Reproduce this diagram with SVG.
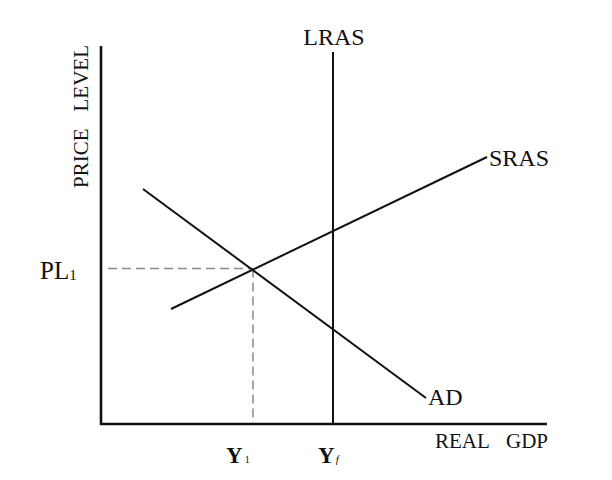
<svg xmlns="http://www.w3.org/2000/svg" width="612" height="480" viewBox="0 0 612 480">
<style>
.ax{stroke:#111;stroke-width:2.6;fill:none}
.cv{stroke:#111;stroke-width:2;fill:none}
.ds{stroke:#8a8a8a;stroke-width:1.5;stroke-dasharray:9,5;fill:none}
text{font-family:"Liberation Serif","Times New Roman",serif;fill:#111}
</style>
<rect width="612" height="480" fill="#fff"/>
<g id="axes">
<line class="ax" x1="101" y1="46" x2="101" y2="425"/>
<line class="ax" x1="100" y1="424" x2="547" y2="424"/>
</g>
<g id="connectors">
<line class="ds" x1="108" y1="268.5" x2="253" y2="268.5"/>
<line class="ds" x1="253" y1="268.5" x2="253" y2="423"/>
</g>
<g id="LRAS">
<line class="cv" x1="333" y1="52" x2="333" y2="424"/>
<text x="334" y="45" font-size="24" text-anchor="middle">LRAS</text>
</g>
<g id="SRAS">
<line class="cv" x1="171" y1="309" x2="487" y2="157"/>
<text x="489" y="166" font-size="24">SRAS</text>
</g>
<g id="AD">
<line class="cv" x1="143" y1="189" x2="426" y2="398"/>
<text x="428" y="405" font-size="24">AD</text>
</g>
<g id="labels">
<text transform="translate(88,188) rotate(-90)" font-size="21">PRICE</text>
<text transform="translate(88,45) rotate(-90)" font-size="21" text-anchor="end">LEVEL</text>
<text x="40" y="279" font-size="25">PL<tspan font-size="15" dy="1">1</tspan></text>
<text x="226" y="463" font-size="23" font-weight="bold">Y<tspan font-size="10" font-weight="normal" dx="2">1</tspan></text>
<text x="318" y="463" font-size="23" font-weight="bold">Y<tspan font-size="11" font-style="italic" font-weight="normal" dx="1">f</tspan></text>
<text x="435" y="448" font-size="21">REAL</text>
<text x="548" y="448" font-size="21" text-anchor="end">GDP</text>
</g>
</svg>
